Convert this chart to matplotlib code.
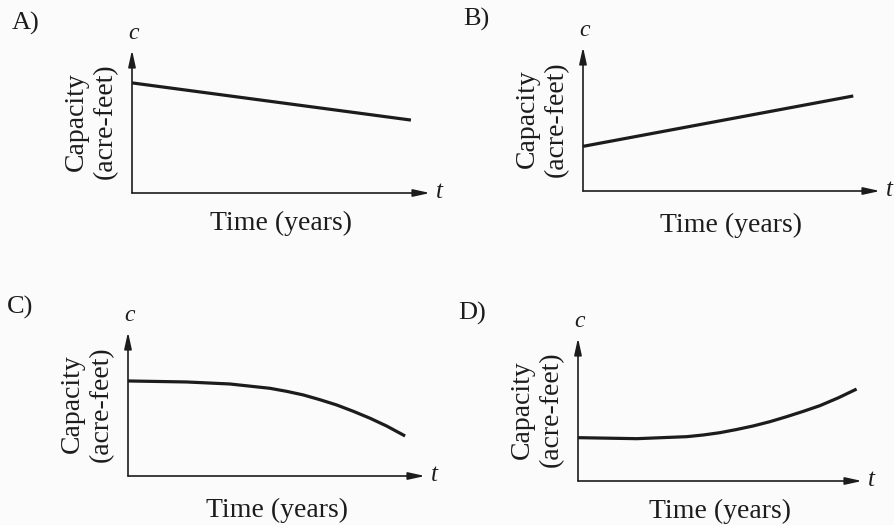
import matplotlib
matplotlib.use("Agg")
import matplotlib.pyplot as plt

# panel letters and curves (t in 0..10 along axis, c in 0..10 up the axis)
panel_tags = ["A)", "B)", "C)", "D)"]

t_a = [0, 9.36]
c_a = [7.7, 5.1]

t_b = [0, 9.1]
c_b = [3.1, 6.6]

t_c = [0, 1.97, 3.43, 4.78, 5.34, 5.90, 6.46, 7.03, 7.59, 8.15, 8.71, 9.33]
c_c = [6.60, 6.53, 6.39, 6.09, 5.88, 5.63, 5.30, 4.93, 4.49, 4.01, 3.47, 2.78]

t_d = [0, 2.07, 3.83, 4.42, 5.0, 5.58, 6.17, 6.76, 7.35, 7.93, 8.52, 9.17, 9.81]
c_d = [3.03, 2.96, 3.10, 3.22, 3.38, 3.60, 3.85, 4.15, 4.50, 4.87, 5.27, 5.82, 6.43]

curves = [(t_a, c_a), (t_b, c_b), (t_c, c_c), (t_d, c_d)]

x_label = "Time (years)"
y_label = "Capacity\n(acre-feet)"

W, H = 894, 525
# axes boxes in pixels: origin x, origin y, x-arrow end, y-arrow top
boxes = [(132, 193, 430, 50), (583, 191, 880, 47),
         (128, 476, 425, 332), (578, 481, 862, 338)]
tag_pos = [(12, 23), (463, 19), (7, 307), (458, 313)]
xpads = [12.5, 15.5, 16, 12.5]

ink = "#1c1c1c"
plt.rcParams["font.family"] = ["Liberation Serif", "DejaVu Serif"]

fig = plt.figure(figsize=(W / 100, H / 100), dpi=100)
fig.patch.set_facecolor("#fbfbfb")

for i, (x0, y0, x1, y1) in enumerate(boxes):
    ax = fig.add_axes([x0 / W, 1 - y0 / H, (x1 - x0) / W, (y0 - y1) / H])
    ax.set_facecolor("none")
    for s in ax.spines.values():
        s.set_visible(False)
    ax.set_xticks([])
    ax.set_yticks([])
    ax.set_xlim(0, 10)
    ax.set_ylim(0, 10)

    arrow = dict(arrowstyle="-|>,head_length=1.0,head_width=0.22",
                 mutation_scale=10, lw=1.2, color=ink, shrinkA=0, shrinkB=0)
    ax.annotate("", xy=(1, 0), xytext=(0, 0), xycoords="axes fraction",
                arrowprops=arrow, annotation_clip=False)
    ax.annotate("", xy=(0, 1), xytext=(0, 0), xycoords="axes fraction",
                arrowprops=arrow, annotation_clip=False)

    t, c = curves[i]
    ax.plot(t, c, color=ink, lw=2.3, clip_on=False, solid_capstyle="butt",
            solid_joinstyle="round")

    ax.annotate("c", xy=(0, 1), xycoords="axes fraction", xytext=(1, 12),
                textcoords="offset points", ha="center", va="center",
                fontsize=17, style="italic", color=ink)
    ax.annotate("t", xy=(1, 0), xycoords="axes fraction", xytext=(7, 1),
                textcoords="offset points", ha="center", va="center",
                fontsize=18, style="italic", color=ink)

    ax.set_xlabel(x_label, fontsize=20, color=ink, labelpad=xpads[i])
    ax.set_ylabel(y_label, fontsize=20, color=ink, labelpad=10,
                  linespacing=1.2, multialignment="center")

    tx, ty = tag_pos[i]
    fig.text(tx / W, 1 - ty / H, panel_tags[i], fontsize=19, color=ink,
             ha="left", va="center")

fig.savefig("out.png", dpi=100, facecolor=fig.get_facecolor())
